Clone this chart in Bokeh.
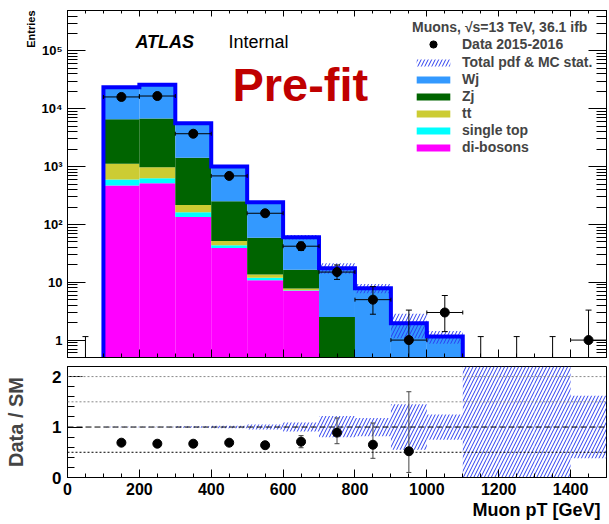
import numpy as np
from bokeh.plotting import figure
from bokeh.layouts import column
from bokeh.models import (FixedTicker, LogAxis, LinearAxis, Legend, LegendItem,
                          Label, Span, Range1d, CustomJSTickFormatter, Title)
from bokeh.embed import file_html
from bokeh.resources import INLINE

FONT = "Liberation Sans"

# ---------------- data ----------------
bin_low = [0, 100, 200, 300, 400, 500, 600, 700, 800, 900, 1000, 1100, 1200, 1300, 1400]
bin_high = [100, 200, 300, 400, 500, 600, 700, 800, 900, 1000, 1100, 1200, 1300, 1400, 1500]

# MC stack, bins 100-1100 GeV
mc_low = bin_low[1:11]
mc_high = bin_high[1:11]
di_bosons = [470, 515, 134, 39, 10.8, 7.1, 0, 0, 0, 0]
single_top = [130, 115, 29, 4.5, 1.2, 0.2, 0, 0, 0, 0]
ttbar = [520, 340, 53, 8.0, 1.6, 0.5, 0, 0, 0, 0]
z_jets = [5480, 5830, 1200, 200, 45, 8.7, 2.5, 0, 0, 0]
w_jets = [16900, 19200, 4180, 750, 182, 43.5, 15, 7.9, 1.96, 1.15]

# data, all bins 0-1500 GeV
data_counts = [0, 16000, 16600, 3700, 690, 156, 42, 15, 5, 1, 3, 0, 0, 0, 1]
data_err_low = [0, 126, 129, 61, 26, 12.5, 6.5, 3.8, 2.2, 0.83, 1.6, 0, 0, 0, 0.83]
data_err_high = [1.15, 126, 129, 61, 27, 13.5, 7.5, 4.9, 3.4, 2.3, 2.9, 1.15, 1.15, 1.15, 2.3]

# relative uncertainty band (Data/SM panel), bins 100-1500 GeV
band_low = [0.995, 0.995, 0.985, 0.975, 0.95, 0.91, 0.80, 0.82, 0.55, 0.75, 0.0, 0.0, 0.0, 0.38]
band_high = [1.005, 1.005, 1.015, 1.025, 1.05, 1.09, 1.22, 1.18, 1.45, 1.25, 2.2, 2.2, 2.2, 1.62]

# Data / SM ratio, bins 100-1000 GeV
ratio_low_edge = bin_low[1:10]
ratio_high_edge = bin_high[1:10]
ratio_vals = [0.69, 0.67, 0.67, 0.69, 0.64, 0.71, 0.89, 0.65, 0.52]
ratio_err_low = [0.005, 0.005, 0.012, 0.026, 0.05, 0.12, 0.22, 0.27, 0.42]
ratio_err_high = [0.005, 0.005, 0.012, 0.026, 0.05, 0.12, 0.29, 0.43, 1.18]

x_ticks = [0, 200, 400, 600, 800, 1000, 1200, 1400]
x_minor = list(range(0, 1501, 50))
y_ticks = [1, 10, 100, 1000, 10000, 100000]
y_tick_labels = ["1", "10", "10²", "10³", "10⁴", "10⁵"]
r_ticks = [0, 1, 2]

colors = {"Wj": "#3399ff", "Zj": "#006400", "tt": "#cccc33",
          "single top": "#00ffff", "di-bosons": "#ff00ff"}
HATCH = "#2a3cf0"
FLOOR = 1e-2

BLANK = CustomJSTickFormatter(code="return '';")

# ---------------- main panel ----------------
p = figure(width=609, height=362, y_axis_type="log",
           x_range=Range1d(0, 1500), y_range=Range1d(0.5, 5e5),
           output_backend="svg", toolbar_location=None,
           min_border_left=67, min_border_right=3, min_border_top=10, min_border_bottom=5)
p.background_fill_color = "white"
p.border_fill_color = "white"
p.outline_line_color = "black"
p.outline_line_width = 1
p.xgrid.grid_line_color = None
p.ygrid.grid_line_color = None

ml = np.array(mc_low, float)
mh = np.array(mc_high, float)
cum = np.zeros(len(mc_low))
stack_renderers = {}
for name, vals in [("di-bosons", di_bosons), ("single top", single_top), ("tt", ttbar),
                   ("Zj", z_jets), ("Wj", w_jets)]:
    bottom = cum.copy()
    cum = cum + np.array(vals, float)
    r = p.quad(left=ml, right=mh, bottom=np.maximum(bottom, FLOOR), top=np.maximum(cum, FLOOR),
               fill_color=colors[name], line_color=None)
    stack_renderers[name] = r
total = cum

# uncertainty hatch on total
bl = np.array(band_low[:10])
bh = np.array(band_high[:10])
hatch_r = p.quad(left=ml, right=mh, bottom=total * bl, top=total * bh,
                 fill_alpha=0, line_color=None, hatch_pattern="/",
                 hatch_color=HATCH, hatch_scale=7, hatch_weight=1)

# total outline
edges = np.concatenate([ml, [mh[-1]]])
xs = np.repeat(edges, 2)
ys = np.concatenate([[FLOOR], np.repeat(total, 2), [FLOOR]])
p.line(xs, ys, line_color="#0000ff", line_width=4, line_join="miter")

# data
lo = np.array(bin_low, float)
hi = np.array(bin_high, float)
cen = (lo + hi) / 2
n = np.array(data_counts, float)
el = np.array(data_err_low, float)
eh = np.array(data_err_high, float)
mask = n > 0
up = n + eh
dn = np.maximum(n - el, 1e-3)
p.segment(x0=cen, y0=dn, x1=cen, y1=up, line_color="black", line_width=1)
p.scatter(cen, up, marker="dash", size=6, line_color="black")
p.scatter(cen[mask], dn[mask], marker="dash", size=6, line_color="black")
p.segment(x0=lo[mask], y0=n[mask], x1=hi[mask], y1=n[mask], line_color="black", line_width=1)
p.scatter(lo[mask], n[mask], marker="dash", angle=np.pi / 2, size=4, line_color="black")
p.scatter(hi[mask], n[mask], marker="dash", angle=np.pi / 2, size=4, line_color="black")
data_r = p.scatter(cen[mask], n[mask], marker="circle", size=9, fill_color="black", line_color="black")


def style_axis(ax, tick_in, minor_in, labels=True, size="13px"):
    ax.major_tick_in = tick_in
    ax.major_tick_out = 0
    ax.minor_tick_in = minor_in
    ax.minor_tick_out = 0
    ax.axis_line_color = "black"
    ax.major_tick_line_color = "black"
    ax.minor_tick_line_color = "black"
    ax.major_label_text_font = FONT
    ax.major_label_text_font_style = "bold"
    ax.major_label_text_color = "black"
    if labels:
        ax.major_label_text_font_size = size
    else:
        ax.formatter = BLANK
        ax.major_label_text_font_size = "2px"
        ax.major_label_standoff = 0


y_minor = [k * 10.0 ** d for d in range(-1, 6) for k in range(2, 10)]
p.yaxis.ticker = FixedTicker(ticks=y_ticks, minor_ticks=y_minor)
p.yaxis.major_label_overrides = {t: s for t, s in zip(y_ticks, y_tick_labels)}
style_axis(p.yaxis[0], 18, 10, True, "13px")
p.yaxis.major_label_standoff = 5

p.xaxis.ticker = FixedTicker(ticks=x_ticks, minor_ticks=x_minor)
style_axis(p.xaxis[0], 8, 4, labels=False)

right_ax = LogAxis(ticker=FixedTicker(ticks=y_ticks, minor_ticks=y_minor))
style_axis(right_ax, 18, 10, labels=False)
p.add_layout(right_ax, "right")
top_ax = LinearAxis(ticker=FixedTicker(ticks=x_ticks, minor_ticks=x_minor))
style_axis(top_ax, 6, 3, labels=False)
p.add_layout(top_ax, "above")

# "Entries" at top of the left side
p.add_layout(Title(text="Entries", align="right", text_font=FONT, text_font_style="bold",
                   text_font_size="11px", text_color="black", standoff=4), "left")

# texts inside the frame
p.add_layout(Label(x=189, y=9.4e4, text="ATLAS", text_font=FONT, text_font_style="bold italic",
                   text_font_size="18px", text_color="black"))
p.add_layout(Label(x=448, y=9.4e4, text="Internal", text_font=FONT,
                   text_font_size="18px", text_color="black"))
p.add_layout(Label(x=459, y=9.0e3, text="Pre-fit", text_font=FONT, text_font_style="bold",
                   text_font_size="47px", text_color="#c00000"))


def style_legend(lg, gh, sp):
    lg.title_text_font = FONT
    lg.title_text_font_style = "bold"
    lg.title_text_font_size = "14px"
    lg.title_standoff = 0
    lg.label_text_font = FONT
    lg.label_text_font_style = "bold"
    lg.label_text_font_size = "14px"
    lg.glyph_width = 42
    lg.glyph_height = gh
    lg.label_height = 14
    lg.label_standoff = 8
    lg.spacing = sp
    lg.padding = 0
    lg.margin = 0
    lg.border_line_color = None
    lg.background_fill_alpha = 0


legend_a = Legend(items=[LegendItem(label="Data 2015-2016", renderers=[data_r])],
                  location=(345, 304), title="Muons, √s=13 TeV, 36.1 ifb")
style_legend(legend_a, 18, 1)
p.add_layout(legend_a)

legend_b = Legend(items=[
    LegendItem(label="Total pdf & MC stat.", renderers=[hatch_r]),
    LegendItem(label="Wj", renderers=[stack_renderers["Wj"]]),
    LegendItem(label="Zj", renderers=[stack_renderers["Zj"]]),
    LegendItem(label="tt", renderers=[stack_renderers["tt"]]),
    LegendItem(label="single top", renderers=[stack_renderers["single top"]]),
    LegendItem(label="di-bosons", renderers=[stack_renderers["di-bosons"]]),
], location=(345, 202))
style_legend(legend_b, 9, 1)
p.add_layout(legend_b)

# ---------------- ratio panel ----------------
q = figure(width=609, height=162, x_range=Range1d(0, 1500), y_range=Range1d(0, 2.2),
           output_backend="svg", toolbar_location=None,
           min_border_left=67, min_border_right=3, min_border_top=4, min_border_bottom=47)
q.background_fill_color = "white"
q.border_fill_color = "white"
q.outline_line_color = "black"
q.outline_line_width = 1
q.xgrid.grid_line_color = None
q.ygrid.grid_line_color = None

q.add_layout(Span(location=2.0, dimension="width", line_color="#888888", line_dash="2 2", line_width=1))
q.add_layout(Span(location=1.5, dimension="width", line_color="#888888", line_dash="2 2", line_width=1))
q.add_layout(Span(location=1.0, dimension="width", line_color="black", line_dash="6 3", line_width=1))
q.add_layout(Span(location=0.5, dimension="width", line_color="black", line_dash="2 2", line_width=1))

q.quad(left=lo[1:], right=hi[1:], bottom=band_low, top=band_high,
       fill_alpha=0, line_color=None, hatch_pattern="/", hatch_color=HATCH,
       hatch_scale=7, hatch_weight=1)

rc = (np.array(ratio_low_edge, float) + np.array(ratio_high_edge, float)) / 2
rv = np.array(ratio_vals)
rlo = rv - np.array(ratio_err_low)
rhi = rv + np.array(ratio_err_high)
q.segment(x0=rc, y0=rlo, x1=rc, y1=rhi, line_color="#444444", line_width=1)
q.scatter(rc, rlo, marker="dash", size=5, line_color="#444444")
q.scatter(rc, rhi, marker="dash", size=5, line_color="#444444")
q.scatter(rc, rv, marker="circle", size=9, fill_color="black", line_color="black")

q.yaxis.ticker = FixedTicker(ticks=r_ticks, minor_ticks=[round(0.2 * i, 1) for i in range(0, 12)])
style_axis(q.yaxis[0], 15, 7, True, "17px")
q.yaxis.major_label_standoff = 6
q.yaxis.axis_label = "Data / SM"
q.yaxis.axis_label_text_font = FONT
q.yaxis.axis_label_text_font_style = "bold"
q.yaxis.axis_label_text_font_size = "20px"
q.yaxis.axis_label_standoff = 22

q.xaxis.ticker = FixedTicker(ticks=x_ticks, minor_ticks=x_minor)
style_axis(q.xaxis[0], 8, 4, True, "16px")
q.xaxis.major_label_standoff = 5

q.add_layout(Title(text="Muon pT [GeV]", align="right", offset=6, standoff=0,
                   text_font=FONT, text_font_style="bold", text_font_size="18px",
                   text_color="black"), "below")

layout = column(p, q, spacing=0)
html = file_html(layout, INLINE)
open("out.html", "w").write(html)
